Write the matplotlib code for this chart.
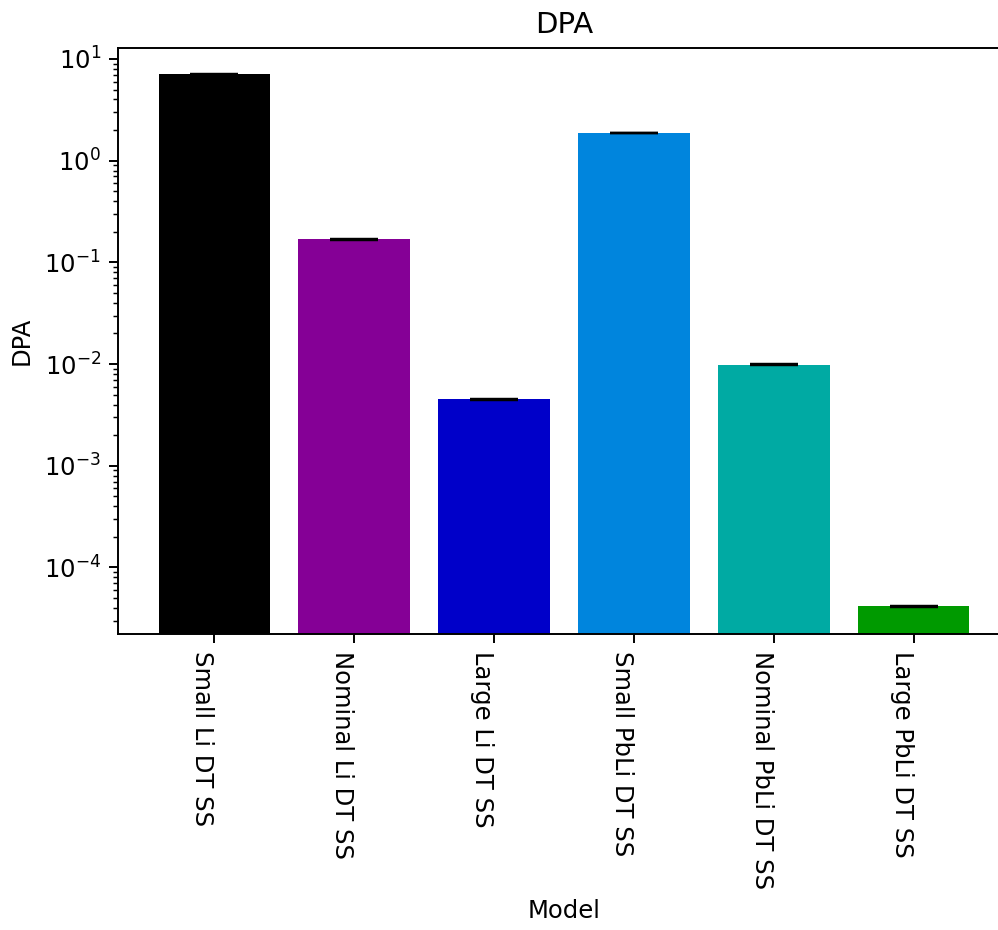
import numpy as np
import matplotlib.pyplot as plt

models = ['Small Li DT SS', 'Nominal Li DT SS', 'Large Li DT SS',
          'Small PbLi DT SS', 'Nominal PbLi DT SS', 'Large PbLi DT SS']
dpa = [7.07, 0.169, 4.51e-3, 1.87, 9.9e-3, 4.16e-5]
dpa_err = [0.07, 0.0017, 4.5e-5, 0.019, 1.0e-4, 4.2e-7]

colors = plt.cm.nipy_spectral(np.linspace(0, 0.45, len(models)))

fig = plt.figure(figsize=(999 / 175, 930 / 175), dpi=175)
ax = fig.add_axes([0.1181, 0.3183, 1.011 - 0.1181, 0.9487 - 0.3183])

x = np.arange(len(models))
ax.bar(x, dpa, yerr=dpa_err, color=colors, capsize=10, log=True)
ax.set_xticks(x)
ax.set_xticklabels(models, rotation=270, ha='right')
ax.set_ylim(2.22e-5, 12.9)
ax.set_xlabel('Model')
ax.set_ylabel('DPA')
ax.set_title('DPA')

fig.savefig('out.png', dpi=175)
